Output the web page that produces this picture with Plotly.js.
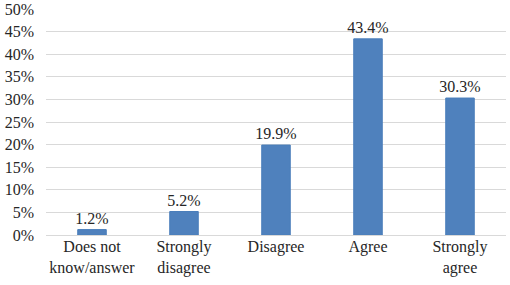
<!DOCTYPE html>
<html>
<head>
<meta charset="utf-8">
<script src="https://cdn.plot.ly/plotly-3.0.1.min.js"></script>
<style>html,body{margin:0;padding:0;background:#fff;}#chart{width:510px;height:285px;}</style>
</head>
<body>
<div id="chart"></div>
<script>
var categories = ["Does not<br>know/answer", "Strongly<br>disagree", "Disagree", "Agree", "Strongly<br>agree"];
var percentages = [1.2, 5.2, 19.9, 43.4, 30.3];
var tickValues = [0, 5, 10, 15, 20, 25, 30, 35, 40, 45, 50];
var tickLabels = tickValues.map(function (v) { return v + '%'; });

var SERIF = '"Liberation Serif", "DejaVu Serif", serif';

var trace = {
  type: 'bar',
  x: categories,
  y: percentages,
  marker: {color: '#4F81BD', line: {color: '#4A7EBB', width: 1}},
  texttemplate: '%{y:.1f}%',
  textposition: 'outside',
  constraintext: 'none',
  cliponaxis: false,
  textfont: {family: SERIF, size: 16, color: '#262626'},
  hoverinfo: 'none'
};

var layout = {
  width: 510, height: 285,
  margin: {l: 46, r: 4, t: 9, b: 50},
  paper_bgcolor: '#fff', plot_bgcolor: '#fff',
  showlegend: false,
  bargap: 0.69,
  font: {family: SERIF, size: 16, color: '#262626'},
  xaxis: {
    showgrid: false, showline: false, zeroline: false,
    tickfont: {family: SERIF, size: 16, color: '#262626'}, ticks: '', automargin: false
  },
  yaxis: {
    range: [0, 50], tickmode: 'array', tickvals: tickValues, ticktext: tickLabels,
    showgrid: true, gridcolor: '#d9d9d9', gridwidth: 1,
    zeroline: true, zerolinecolor: '#d9d9d9', zerolinewidth: 1,
    showline: false, ticks: '', ticklabelstandoff: 11,
    tickfont: {family: SERIF, size: 16, color: '#262626'}, automargin: false
  }
};

Plotly.newPlot('chart', [trace], layout, {staticPlot: true, displayModeBar: false});
</script>
</body>
</html>
